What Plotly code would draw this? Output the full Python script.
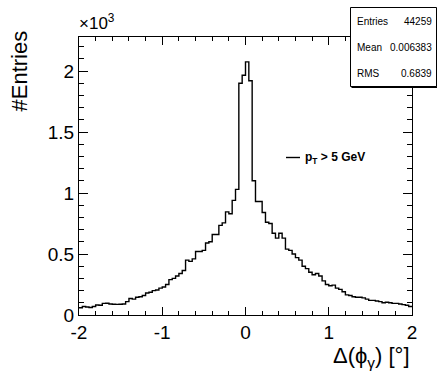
import numpy as np
import plotly.graph_objects as go

# ---- data ----
x_min, x_max, n_bins = -2.0, 2.0, 100
counts = [
    60, 70, 65, 62, 70, 82, 80, 95, 96, 90,
    88, 87, 88, 90, 110, 135, 130, 145, 150, 160,
    180, 186, 200, 205, 220, 230, 250, 290, 300, 320,
    340, 365, 450, 440, 460, 520, 520, 530, 590, 600,
    660, 660, 735, 755, 845, 830, 940, 1030, 1900, 1965,
    2075, 1920, 1100, 930, 930, 840, 760, 750, 670, 630,
    670, 630, 540, 530, 500, 470, 450, 400, 380, 350,
    330, 340, 320, 280, 250, 240, 245, 220, 210, 190,
    165, 160, 150, 145, 145, 140, 130, 120, 120, 115,
    110, 100, 105, 100, 95, 95, 90, 85, 80, 70,
]
x_tick_vals = [-2, -1, 0, 1, 2]
x_tick_text = ["-2", "-1", "0", "1", "2"]
y_tick_vals = [0, 500, 1000, 1500, 2000]
y_tick_text = ["0", "0.5", "1", "1.5", "2"]
stats_labels = ["Entries", "Mean", "RMS"]
stats_values = ["44259", "0.006383", "0.6839"]
legend_label = "<b>p<sub>T</sub> > 5 GeV</b>"

edges = np.linspace(x_min, x_max, n_bins + 1)
xs = list(edges[:-1]) + [edges[-1]]
ys = list(counts) + [counts[-1]]

W, H = 437, 372
L, R, T, B = 79, 25, 37, 57
pw, ph = W - L - R, H - T - B


def px(x):
    return (x - L) / pw


def py(y):
    return (H - B - y) / ph


FONT = "Liberation Sans, Arial, Helvetica, sans-serif"

fig = go.Figure()
fig.add_trace(go.Scatter(x=xs, y=ys, mode="lines", line=dict(color="black", width=1.4, shape="hv"),
                         showlegend=False, hoverinfo="skip"))

fig.update_layout(
    width=W, height=H,
    margin=dict(l=L, r=R, t=T, b=B),
    paper_bgcolor="white", plot_bgcolor="white",
    font=dict(family=FONT, color="black", size=19),
    showlegend=False,
)
fig.update_xaxes(
    range=[x_min, x_max], showgrid=False, zeroline=False,
    showline=True, linecolor="black", linewidth=1, mirror="allticks",
    ticks="inside", ticklen=8, tickcolor="black", tickwidth=1,
    tickvals=x_tick_vals, ticktext=x_tick_text,
    tickfont=dict(size=19, family=FONT),
    minor=dict(ticks="inside", dtick=0.2, ticklen=4, tickcolor="black", tickwidth=1, showgrid=False),
)
fig.update_yaxes(
    range=[0, 2279], showgrid=False, zeroline=False,
    showline=True, linecolor="black", linewidth=1, mirror="allticks",
    ticks="inside", ticklen=9, tickcolor="black", tickwidth=1,
    tickvals=y_tick_vals, ticktext=y_tick_text,
    tickfont=dict(size=19, family=FONT),
    minor=dict(ticks="inside", dtick=100, ticklen=5, tickcolor="black", tickwidth=1, showgrid=False),
)

ann = []
# exponent
ann.append(dict(x=px(77), y=py(35), xref="paper", yref="paper", xanchor="left", yanchor="bottom",
                text="×10<sup>3</sup>", showarrow=False, font=dict(size=17, family=FONT)))
# axis titles
ann.append(dict(x=1.0, y=py(373), xref="paper", yref="paper", xanchor="right", yanchor="bottom",
                text="Δ(ϕ<sub>γ</sub>) [°]", showarrow=False, font=dict(size=22, family=FONT)))
ann.append(dict(x=px(19), y=py(29), xref="paper", yref="paper", xanchor="center", yanchor="top",
                text="#Entries", textangle=-90, showarrow=False, font=dict(size=22, family=FONT)))
# legend text
ann.append(dict(x=px(303), y=py(158), xref="paper", yref="paper", xanchor="left", yanchor="middle",
                text=legend_label, showarrow=False, font=dict(size=12, family=FONT)))
# stats box
row_y = [22, 48, 74]
for lab, val, ry in zip(stats_labels, stats_values, row_y):
    ann.append(dict(x=px(355), y=py(ry), xref="paper", yref="paper", xanchor="left", yanchor="middle",
                    text=lab, showarrow=False, font=dict(size=10, family=FONT)))
    ann.append(dict(x=px(434), y=py(ry), xref="paper", yref="paper", xanchor="right", yanchor="middle",
                    text=val, showarrow=False, font=dict(size=10, family=FONT)))
fig.update_layout(annotations=ann)

shapes = []
# stats box shadow + box
shapes.append(dict(type="rect", xref="paper", yref="paper", x0=px(351.5), x1=px(437.5), y0=py(88), y1=py(9),
                   line=dict(width=0), fillcolor="black", layer="above"))
shapes.append(dict(type="rect", xref="paper", yref="paper", x0=px(350.5), x1=px(436.5), y0=py(86.5), y1=py(7.5),
                   line=dict(color="black", width=1), fillcolor="white", layer="above"))
# legend line sample
shapes.append(dict(type="line", xref="paper", yref="paper", x0=px(286), x1=px(300), y0=py(157.5), y1=py(157.5),
                   line=dict(color="black", width=1.4)))
fig.update_layout(shapes=shapes)

fig.write_html("out.html")
